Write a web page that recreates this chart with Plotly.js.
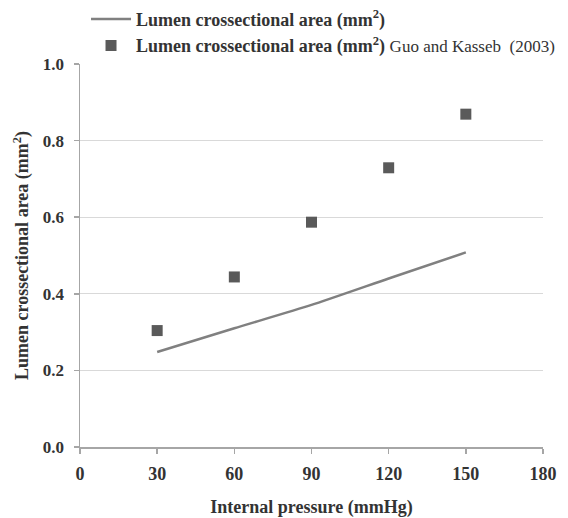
<!DOCTYPE html>
<html>
<head>
<meta charset="utf-8">
<script src="https://cdn.plot.ly/plotly-3.0.1.min.js"></script>
<style>html,body{margin:0;padding:0;background:#fff;}#chart{width:568px;height:518px;}</style>
</head>
<body>
<div id="chart"></div>
<script>
var pressure = [30, 60, 90, 120, 150];
var modelArea = [0.248, 0.310, 0.371, 0.440, 0.508];
var guoArea = [0.304, 0.444, 0.587, 0.729, 0.869];
var xTicks = [0, 30, 60, 90, 120, 150, 180];
var yTicks = [0.0, 0.2, 0.4, 0.6, 0.8, 1.0];
var yTickLabels = ['0.0', '0.2', '0.4', '0.6', '0.8', '1.0'];

var font = 'Liberation Serif, Times New Roman, serif';

var traces = [
  {
    x: pressure, y: modelArea, mode: 'lines', type: 'scatter',
    name: '<b>Lumen crossectional area (mm<sup>2</sup>)</b>',
    line: {color: '#808080', width: 2.5, shape: 'spline', smoothing: 0.6}
  },
  {
    x: pressure, y: guoArea, mode: 'markers', type: 'scatter',
    name: '<b>Lumen crossectional area (mm<sup>2</sup>)</b> <span style="font-size:17px">Guo and Kasseb  (2003)</span>',
    marker: {symbol: 'square', size: 11, color: '#5a5a5a'}
  }
];

var layout = {
  width: 568, height: 518,
  margin: {l: 80, r: 25, t: 64, b: 71, autoexpand: false},
  paper_bgcolor: '#fff', plot_bgcolor: '#fff',
  font: {family: font, color: '#333'},
  showlegend: true,
  legend: {
    x: 0.013, xanchor: 'left', y: 1.165, yanchor: 'top',
    orientation: 'v', font: {family: font, size: 18, color: '#333'},
    tracegroupgap: 0, itemwidth: 40, bgcolor: 'rgba(0,0,0,0)'
  },
  xaxis: {
    range: [0, 180], tickvals: xTicks, ticktext: xTicks.map(String),
    showgrid: false, zeroline: false,
    showline: true, linecolor: '#a6a6a6', linewidth: 1.5,
    ticks: 'outside', ticklen: 5, tickcolor: '#a6a6a6', tickwidth: 1.5,
    ticklabelstandoff: 5,
    tickfont: {family: font, size: 18, color: '#333', weight: 'bold'},
    title: {text: '<b>Internal pressure (mmHg)</b>', font: {family: font, size: 18, color: '#333'}, standoff: 20}
  },
  yaxis: {
    range: [0, 1.0], tickvals: yTicks, ticktext: yTickLabels,
    showgrid: true, gridcolor: '#d9d9d9', gridwidth: 1,
    zeroline: false,
    showline: true, linecolor: '#a6a6a6', linewidth: 1.5,
    ticks: 'outside', ticklen: 5, tickcolor: '#a6a6a6', tickwidth: 1.5,
    ticklabelstandoff: 6,
    tickfont: {family: font, size: 17, color: '#333', weight: 'bold'},
    title: {text: '<b>Lumen crossectional area (mm<sup>2</sup>)</b>', font: {family: font, size: 18, color: '#333'}, standoff: 9}
  }
};

Plotly.newPlot('chart', traces, layout, {displayModeBar: false, staticPlot: true});
</script>
</body>
</html>
